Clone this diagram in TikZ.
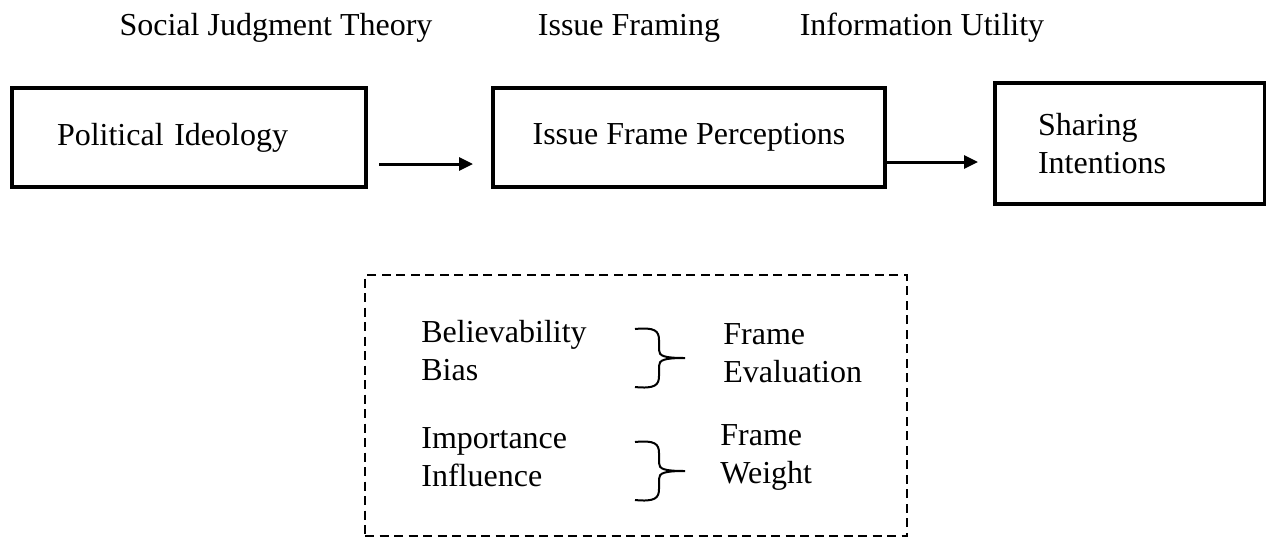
\documentclass[tikz,border=0pt]{standalone}
\usepackage{fontspec}
\setmainfont{Liberation Serif}
\usetikzlibrary{arrows.meta,positioning}

\begin{document}
\begin{tikzpicture}[
x=0.5pt,y=-0.5pt,
every node/.style={font=\fontsize{16}{19}\selectfont},
box/.style={draw,line width=2pt,align=left,minimum height=49.5pt,inner xsep=0pt},
lbl/.style={anchor=west,align=left,inner sep=0pt},
arr/.style={-{Triangle[length=7pt,width=6.5pt]},line width=1.5pt},
brc/.style={line width=1pt},
grp/.style={draw,line width=1pt,dash pattern=on 4.5pt off 2.75pt,
minimum width=271pt,minimum height=130.5pt}
]
\useasboundingbox (0,0) rectangle (1266,538);
% theories
\node (sjt) at (276,28) {Social Judgment Theory};
\node (ifr) at (629,28) {Issue Framing};
\node (inu) at (922,28) {Information Utility};
% model
\node[box,minimum width=177pt,text width=132pt] (pol) at (189,137.5) {Political Ideology};
\node[box,minimum width=196pt,align=center] (iss) at (689,137.5) {Issue Frame Perceptions};
\node[box,minimum width=135pt,minimum height=60.5pt,text width=92pt] (shr) at (1130,143.5) {Sharing\\Intentions};
\draw[arr] ([shift={(11,26.5)}]pol.east) -- ([shift={(-18,26.5)}]iss.west);
\draw[arr] ([shift={(0,24.5)}]iss.east) -- ([shift={(-15,18.5)}]shr.west);
% frame dimensions
\node[grp] (dim) at (636,405.5) {};
\node[lbl] (bel) at (421,351) {Believability\\Bias};
\node[lbl] (imp) at (421,457) {Importance\\Influence};
\node[lbl] (fev) at (723,353) {Frame\\Evaluation};
\node[lbl] (fwt) at (720,457) {Frame\\Weight};
\foreach \dy in {0,113}
  \draw[brc,shift={(0,\dy)}] (635,329) .. controls (655,327) and (659,331) .. (659,340)
    -- (659,350) .. controls (659,356) and (664,358) .. (685,358)
    .. controls (664,358) and (659,360) .. (659,366)
    -- (659,376) .. controls (659,385) and (655,389) .. (635,387);
\end{tikzpicture}
\end{document}
